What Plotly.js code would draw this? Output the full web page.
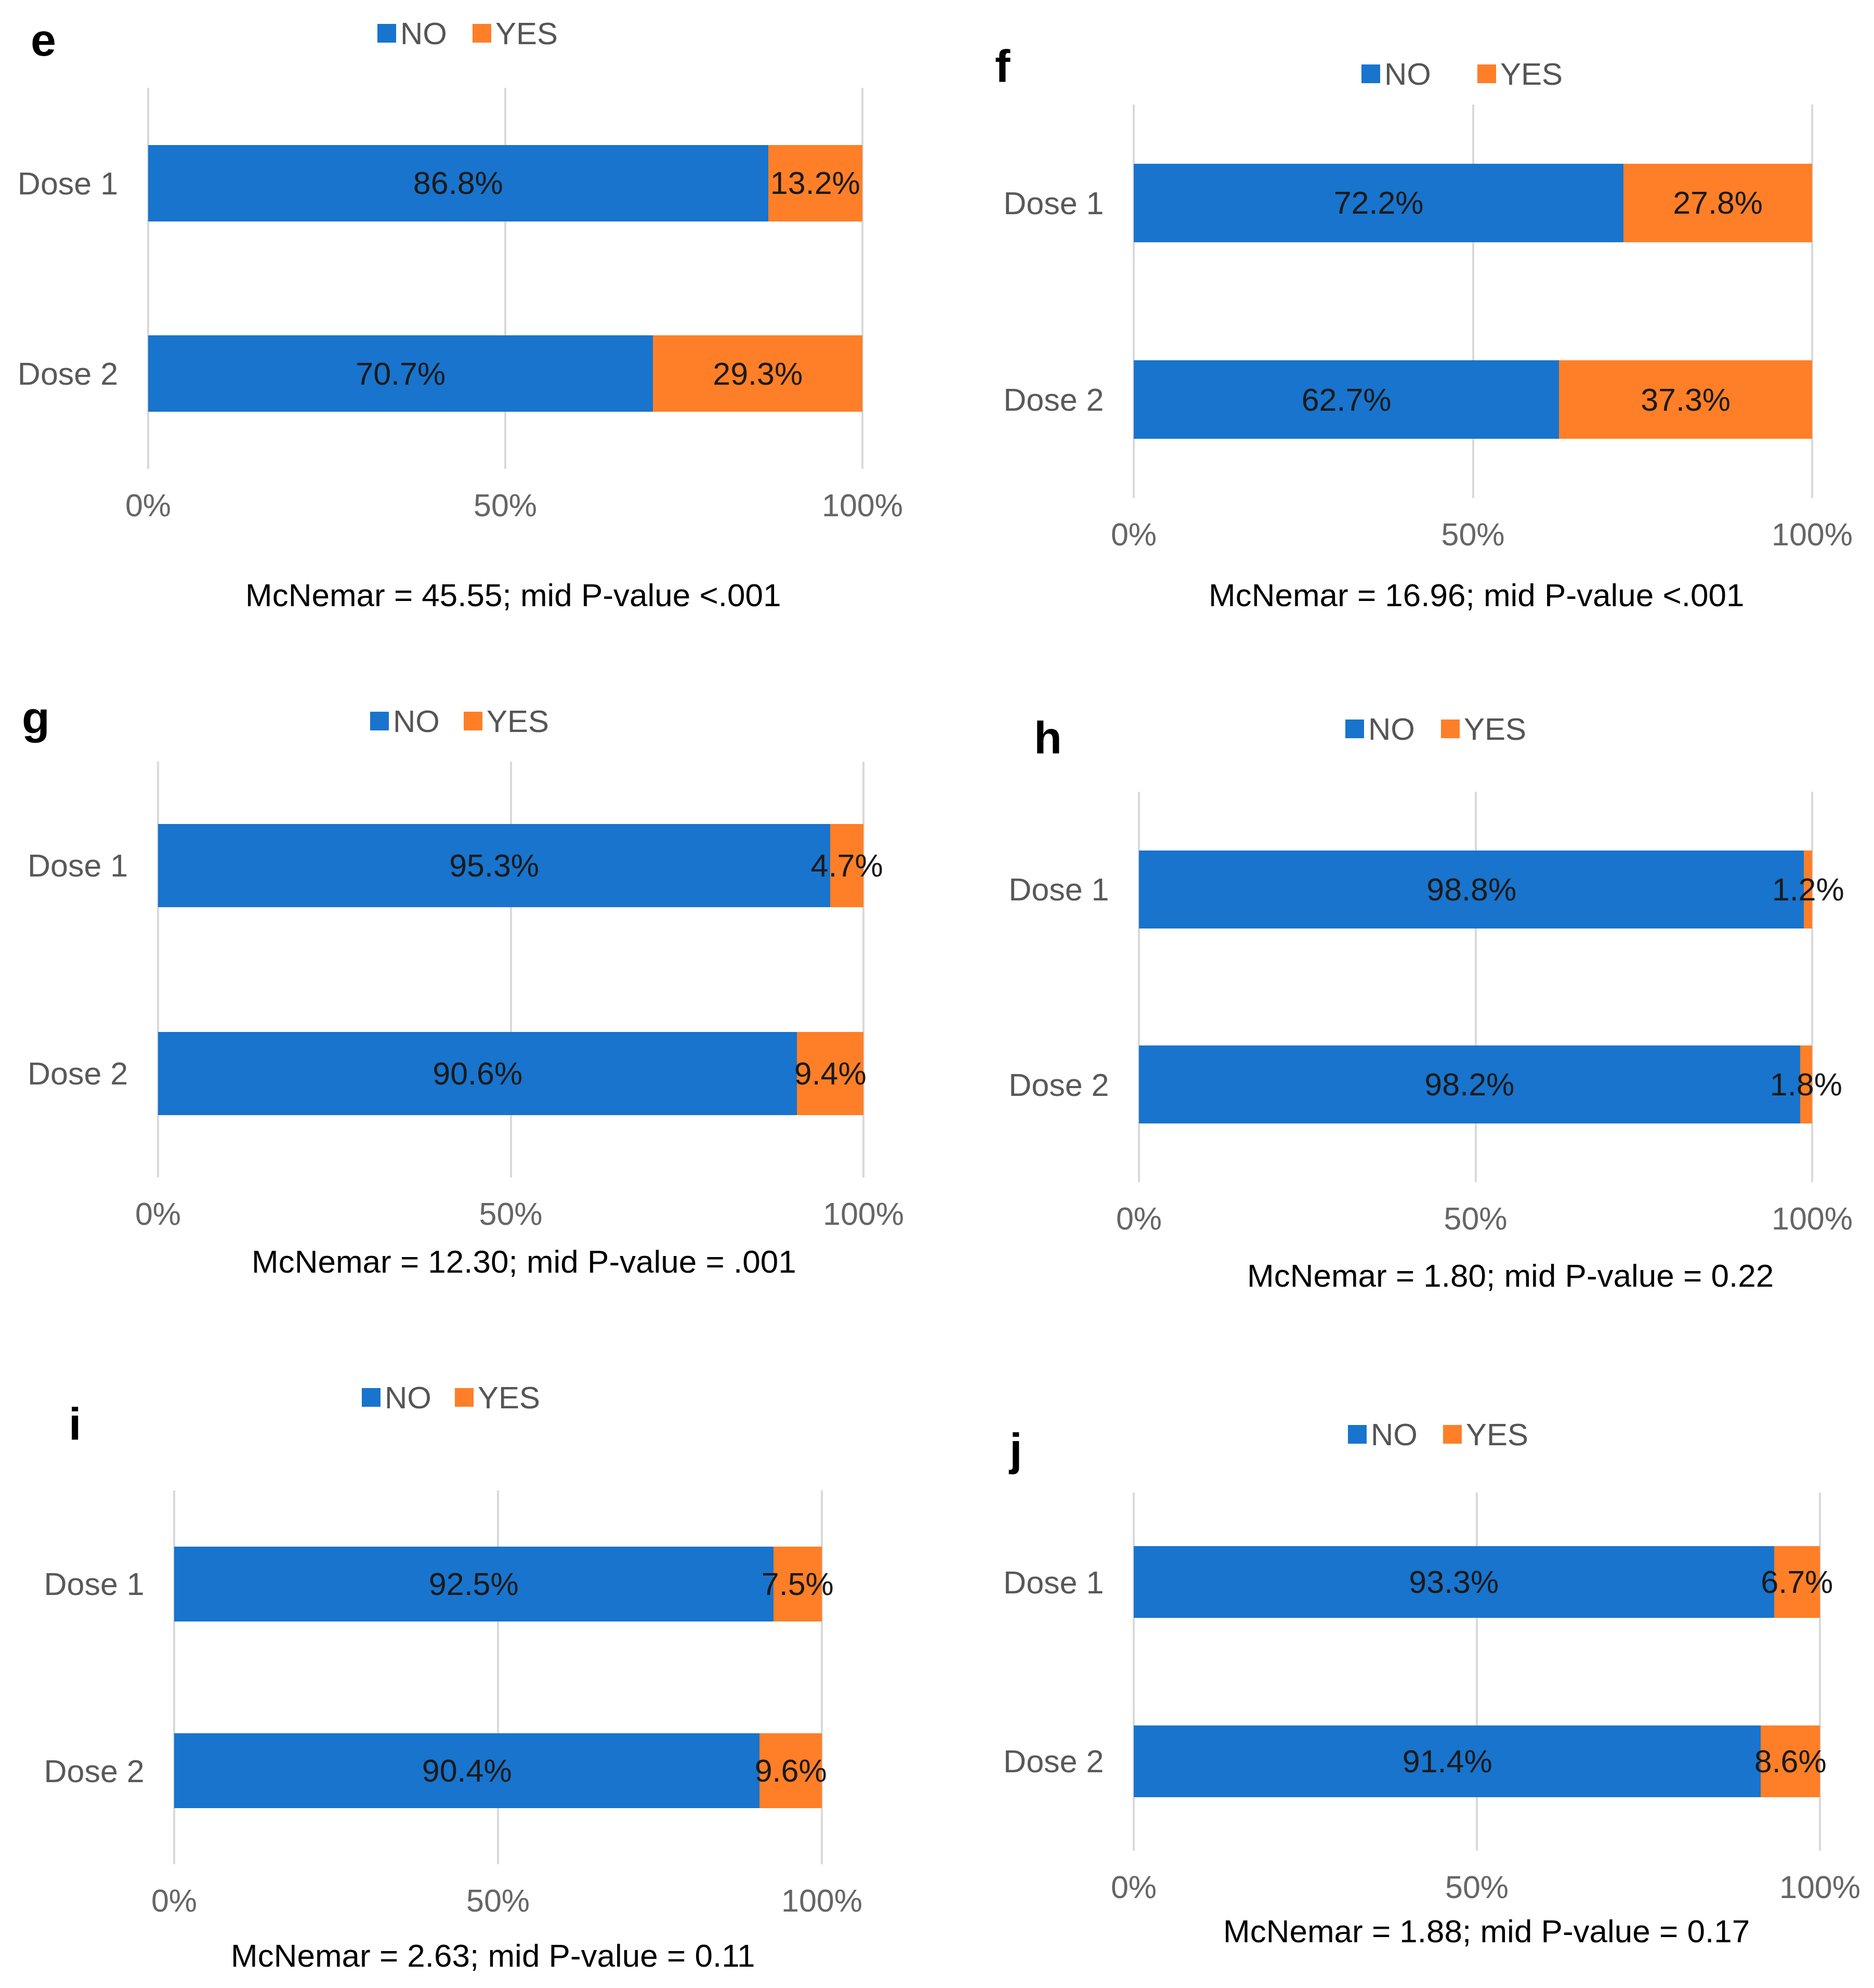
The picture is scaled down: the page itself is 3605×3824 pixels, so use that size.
<!DOCTYPE html>
<html>
<head>
<meta charset="utf-8">
<script src="https://cdn.plot.ly/plotly-3.0.1.min.js"></script>
<style>
  html, body { margin: 0; padding: 0; background: #fff; }
  #chart { width: 3605px; height: 3824px; }
</style>
</head>
<body>
<div id="chart"></div>
<script>
const W = 3605;
const H = 3824;
const FONT = '"Liberation Sans", Arial, sans-serif';

const panelLetters = ['e', 'f', 'g', 'h', 'i', 'j'];
const doses = ['Dose 1', 'Dose 2'];
const seriesNames = ['NO', 'YES'];
const tickValues = [0, 50, 100];
const tickLabels = ['0%', '50%', '100%'];

const noE = [86.8, 70.7];
const yesE = [13.2, 29.3];
const noF = [72.2, 62.7];
const yesF = [27.8, 37.3];
const noG = [95.3, 90.6];
const yesG = [4.7, 9.4];
const noH = [98.8, 98.2];
const yesH = [1.2, 1.8];
const noI = [92.5, 90.4];
const yesI = [7.5, 9.6];
const noJ = [93.3, 91.4];
const yesJ = [6.7, 8.6];

const noValues = [noE, noF, noG, noH, noI, noJ];
const yesValues = [yesE, yesF, yesG, yesH, yesI, yesJ];

const mcnemar = [
  'McNemar = 45.55; mid P-value <.001',
  'McNemar = 16.96; mid P-value <.001',
  'McNemar = 12.30; mid P-value = .001',
  'McNemar = 1.80; mid P-value = 0.22',
  'McNemar = 2.63; mid P-value = 0.11',
  'McNemar = 1.88; mid P-value = 0.17',
];

const colors = ['#1874cd', '#fe7f27'];

// page placement of each panel, in pixels
// plot: [x of 0%, x of 100%, top, bottom], letter: [x, y], legend: [noX, yesX, y], note: [x, y]
const frames = [
  { plot: [285, 1659, 169, 902],    letter: [83, 76],     legend: [744, 927, 64],     note: [987, 1145] },
  { plot: [2181, 3486, 201, 958],   letter: [1929, 127],  legend: [2637, 2860, 142],  note: [2840, 1145] },
  { plot: [304, 1661, 1465, 2265],  letter: [69, 1381],   legend: [730, 910, 1387],   note: [1008, 2426] },
  { plot: [2191, 3486, 1523, 2274], letter: [2016, 1418], legend: [2606, 2790, 1402], note: [2905, 2453] },
  { plot: [335, 1581, 2867, 3586],  letter: [144, 2738],  legend: [714, 893, 2688],   note: [948, 3761] },
  { plot: [2181, 3501, 2871, 3560], letter: [1953, 2787], legend: [2611, 2794, 2759], note: [2859, 3714] },
];

// a little slack past 0% and 100% so the edge gridlines are drawn
const PAD = 0.5;

const px = x => x / W;
const py = y => 1 - y / H;

const traces = [];
const annotations = [];
const shapes = [];
const layout = {
  width: W,
  height: H,
  margin: { l: 0, r: 0, t: 0, b: 0 },
  paper_bgcolor: '#ffffff',
  plot_bgcolor: '#ffffff',
  font: { family: FONT, size: 61, color: '#333' },
  barmode: 'stack',
  bargap: 0.6,
  showlegend: false,
};

frames.forEach((f, i) => {
  const n = i === 0 ? '' : String(i + 1);
  const [l, r, t, b] = f.plot;
  const slack = PAD * (r - l) / 100;

  [noValues[i], yesValues[i]].forEach((vals, k) => {
    traces.push({
      type: 'bar',
      orientation: 'h',
      x: vals,
      y: doses,
      xaxis: 'x' + n,
      yaxis: 'y' + n,
      name: seriesNames[k],
      marker: { color: colors[k], line: { width: 0 } },
      text: vals.map(v => v.toFixed(1) + '%'),
      textposition: 'inside',
      insidetextanchor: 'middle',
      textangle: 0,
      constraintext: 'none',
      cliponaxis: false,
      textfont: { family: FONT, size: 61, color: '#1a1a1a' },
      hoverinfo: 'none',
    });
  });

  layout['xaxis' + n] = {
    domain: [px(l - slack), px(r + slack)],
    anchor: 'y' + n,
    range: [-PAD, 100 + PAD],
    tickvals: tickValues,
    ticktext: tickLabels,
    showgrid: true,
    gridcolor: '#d9d9d9',
    gridwidth: 4,
    zeroline: false,
    showline: false,
    ticks: '',
    ticklabelstandoff: 29,
    tickfont: { family: FONT, size: 61, color: '#666666' },
    fixedrange: true,
  };
  layout['yaxis' + n] = {
    domain: [py(b), py(t)],
    anchor: 'x' + n,
    type: 'category',
    categoryarray: doses,
    range: [1.5, -0.5],
    showgrid: false,
    zeroline: false,
    showline: false,
    ticks: '',
    ticklabelstandoff: 50,
    tickfont: { family: FONT, size: 61, color: '#595959' },
    fixedrange: true,
  };

  // panel letter
  annotations.push({
    xref: 'paper', yref: 'paper',
    x: px(f.letter[0]), y: py(f.letter[1]),
    xanchor: 'center', yanchor: 'middle',
    text: panelLetters[i],
    showarrow: false,
    font: { family: FONT, size: 88, color: '#000', weight: 700 },
  });

  // statistic under each panel
  annotations.push({
    xref: 'paper', yref: 'paper',
    x: px(f.note[0]), y: py(f.note[1]),
    xanchor: 'center', yanchor: 'middle',
    text: mcnemar[i],
    showarrow: false,
    font: { family: FONT, size: 62, color: '#000' },
  });

  // legend: coloured square + label
  const [noX, yesX, ly] = f.legend;
  [noX, yesX].forEach((cx, k) => {
    shapes.push({
      type: 'rect', xref: 'paper', yref: 'paper',
      x0: px(cx - 18), x1: px(cx + 18),
      y0: py(ly + 18), y1: py(ly - 18),
      fillcolor: colors[k], line: { width: 0 },
    });
    annotations.push({
      xref: 'paper', yref: 'paper',
      x: px(cx + 24), y: py(ly),
      xanchor: 'left', yanchor: 'middle',
      text: seriesNames[k],
      showarrow: false,
      font: { family: FONT, size: 60, color: '#555555' },
    });
  });
});

layout.annotations = annotations;
layout.shapes = shapes;

Plotly.newPlot('chart', traces, layout, { staticPlot: true, displayModeBar: false });
</script>
</body>
</html>
